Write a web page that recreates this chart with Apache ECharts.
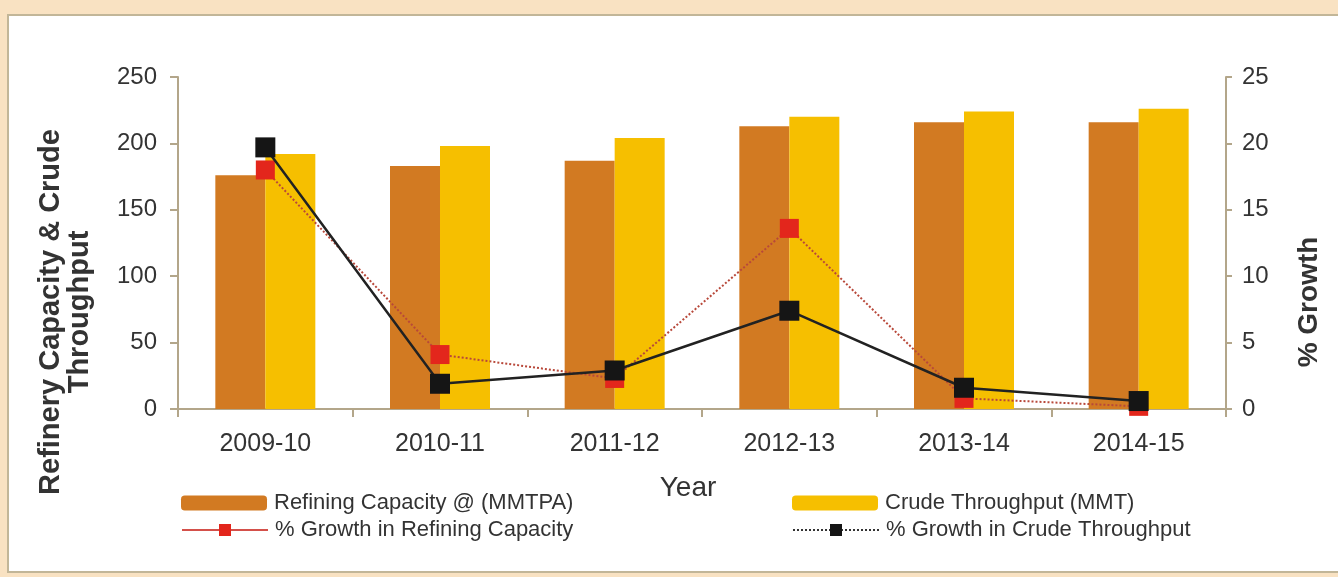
<!DOCTYPE html>
<html>
<head>
<meta charset="utf-8">
<title>Refinery Capacity &amp; Crude Throughput</title>
<script src="https://cdn.jsdelivr.net/npm/echarts@6/dist/echarts.min.js"></script>
<style>
  html, body { margin: 0; padding: 0; background: #f9e2c2; }
  #chart { width: 1338px; height: 577px; }
</style>
</head>
<body>
<div id="chart"></div>
<script>
// Years on the category axis
const years = ['2009-10', '2010-11', '2011-12', '2012-13', '2013-14', '2014-15'];

// Bars (left axis, MMTPA / MMT)
const refiningCapacity = [176, 183, 187, 213, 216, 216];
const crudeThroughput = [192, 198, 204, 220, 224, 226];

// Growth lines (right axis, %)
const refiningGrowth = [18.0, 4.1, 2.3, 13.6, 0.8, 0.2];
const crudeGrowth = [19.7, 1.9, 2.9, 7.4, 1.6, 0.6];

// Axis ranges
const leftAxisRange = { min: 0, max: 250, interval: 50 };
const rightAxisRange = { min: 0, max: 25, interval: 5 };

const FONT = "'Liberation Sans', Arial, Helvetica, sans-serif";
const TEXT = '#333333';
const AXIS = '#b3a68a';

const names = {
  cap: 'Refining Capacity @ (MMTPA)',
  crude: 'Crude Throughput (MMT)',
  capG: '% Growth in Refining Capacity',
  crudeG: '% Growth in Crude Throughput'
};

const chart = echarts.init(document.getElementById('chart'), null, { renderer: 'canvas' });

function legendBlock(name, left, top, extra) {
  return Object.assign({
    left: left, top: top, padding: 0,
    itemWidth: 86, itemHeight: 15, itemGap: 0,
    selectedMode: false,
    textStyle: { fontFamily: FONT, fontSize: 22, color: TEXT, padding: [0, 0, 0, 2] },
    data: [name]
  }, extra || {});
}

chart.setOption({
  backgroundColor: '#f9e2c2',
  animation: false,
  textStyle: { fontFamily: FONT },
  graphic: [
    {
      type: 'rect', z: -10, silent: true,
      shape: { x: 8, y: 15, width: 1345, height: 557 },
      style: { fill: '#ffffff', stroke: '#c2b698', lineWidth: 2 }
    },
    {
      type: 'text', z: 10, silent: true,
      x: 65, y: 312, rotation: Math.PI / 2,
      style: {
        text: 'Refinery Capacity & Crude\nThroughput',
        fontFamily: FONT, fontSize: 29, fontWeight: 'bold',
        fill: TEXT, align: 'center', verticalAlign: 'middle', lineHeight: 29
      }
    },
    {
      type: 'text', z: 10, silent: true,
      x: 1309, y: 302, rotation: Math.PI / 2,
      style: {
        text: '% Growth',
        fontFamily: FONT, fontSize: 28, fontWeight: 'bold',
        fill: TEXT, align: 'center', verticalAlign: 'middle'
      }
    },
    {
      type: 'text', z: 10, silent: true,
      x: 688, y: 488,
      style: {
        text: 'Year', fontFamily: FONT, fontSize: 28,
        fill: TEXT, align: 'center', verticalAlign: 'middle'
      }
    }
  ],
  legend: [
    legendBlock(names.cap, 181, 492),
    legendBlock(names.capG, 181, 519, {
      data: [{ name: names.capG, lineStyle: { type: 'solid', color: '#d4504a', width: 2 } }]
    }),
    legendBlock(names.crude, 792, 492),
    legendBlock(names.crudeG, 792, 519, {
      data: [{ name: names.crudeG, lineStyle: { type: 'dotted', color: '#333', width: 2 } }]
    })
  ],
  grid: { left: 178, right: 112, top: 77, bottom: 168 },
  xAxis: {
    type: 'category',
    data: years,
    boundaryGap: true,
    axisLine: { lineStyle: { color: AXIS, width: 2 } },
    axisTick: { show: true, length: 8, lineStyle: { color: AXIS, width: 2 } },
    axisLabel: { fontFamily: FONT, fontSize: 25, color: TEXT, margin: 23 }
  },
  yAxis: [
    {
      type: 'value',
      min: leftAxisRange.min, max: leftAxisRange.max, interval: leftAxisRange.interval,
      axisLine: { show: true, lineStyle: { color: AXIS, width: 2 } },
      axisTick: { show: true, length: 8, lineStyle: { color: AXIS, width: 2 } },
      axisLabel: { fontFamily: FONT, fontSize: 24, color: TEXT, margin: 21 },
      splitLine: { show: false }
    },
    {
      type: 'value',
      min: rightAxisRange.min, max: rightAxisRange.max, interval: rightAxisRange.interval,
      position: 'right',
      axisLine: { show: true, lineStyle: { color: AXIS, width: 2 } },
      axisTick: { show: true, length: 6, lineStyle: { color: AXIS, width: 2 } },
      axisLabel: { fontFamily: FONT, fontSize: 24, color: TEXT, margin: 16 },
      splitLine: { show: false }
    }
  ],
  series: [
    {
      name: names.cap, type: 'bar', yAxisIndex: 0,
      data: refiningCapacity,
      barWidth: 50, barGap: '0%',
      itemStyle: { color: '#d27a22' }
    },
    {
      name: names.crude, type: 'bar', yAxisIndex: 0,
      data: crudeThroughput,
      barWidth: 50, barGap: '0%',
      itemStyle: { color: '#f6bf00' }
    },
    {
      name: names.capG, type: 'line', yAxisIndex: 1,
      data: refiningGrowth,
      z: 5,
      symbol: 'rect', symbolSize: 19,
      itemStyle: { color: '#e3261c' },
      lineStyle: { color: '#b8483a', width: 2, type: 'dotted' }
    },
    {
      name: names.crudeG, type: 'line', yAxisIndex: 1,
      data: crudeGrowth,
      z: 6,
      symbol: 'rect', symbolSize: 20,
      itemStyle: { color: '#151515' },
      lineStyle: { color: '#222222', width: 2.5, type: 'solid' }
    }
  ]
});
</script>
</body>
</html>
